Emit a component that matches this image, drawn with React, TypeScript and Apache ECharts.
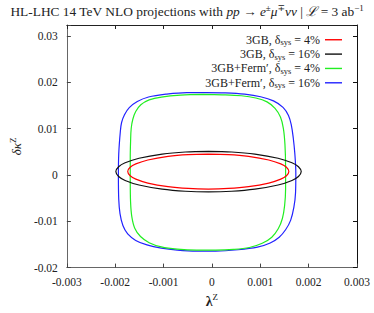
import React, { useEffect, useRef } from "react";
import * as echarts from "echarts";

const seriesNames = ["3GB, 4%", "3GB, 16%", "3GB+Ferm, 4%", "3GB+Ferm, 16%"];
const legendLabels = [
  "3GB, δ{sub|sys} = 4%",
  "3GB, δ{sub|sys} = 16%",
  "3GB+Ferm′, δ{sub|sys} = 4%",
  "3GB+Ferm′, δ{sub|sys} = 16%",
];
const seriesColors = ["#ff0000", "#111111", "#22ee22", "#2222ff"];

const xTicks = [-0.003, -0.002, -0.001, 0, 0.001, 0.002, 0.003];
const yTicks = [-0.02, -0.01, 0, 0.01, 0.02, 0.03];

// [lambda^Z, delta kappa^Z]
const red3GB4: number[][] = [
  [-0.000075, 0.00453], [0.000342, 0.004409], [0.000758, 0.004023], [0.001175, 0.003249],
  [0.001424, 0.002398], [0.001541, 0.001669], [0.001591, 0.00075], [0.001541, -0.000169],
  [0.001424, -0.000898], [0.001175, -0.001749], [0.000758, -0.002523], [0.000342, -0.002909],
  [-0.000075, -0.00303], [-0.000492, -0.002909], [-0.000908, -0.002523], [-0.001325, -0.001749],
  [-0.001574, -0.000898], [-0.001691, -0.000169], [-0.001741, 0.00075], [-0.001691, 0.001669],
  [-0.001574, 0.002398], [-0.001325, 0.003249], [-0.000908, 0.004023], [-0.000492, 0.004409],
  [-0.000075, 0.00453],
];

const black3GB16: number[][] = [
  [-0.00007, 0.00511], [0.000409, 0.00497], [0.000889, 0.004523], [0.001368, 0.003627],
  [0.001655, 0.00264], [0.001789, 0.001795], [0.001847, 0.00073], [0.001789, -0.000335],
  [0.001655, -0.00118], [0.001368, -0.002167], [0.000889, -0.003063], [0.000409, -0.00351],
  [-0.00007, -0.00365], [-0.000549, -0.00351], [-0.001029, -0.003063], [-0.001508, -0.002167],
  [-0.001795, -0.00118], [-0.001929, -0.000335], [-0.001987, 0.00073], [-0.001929, 0.001795],
  [-0.001795, 0.00264], [-0.001508, 0.003627], [-0.001029, 0.004523], [-0.000549, 0.00497],
  [-0.00007, 0.00511],
];

const greenFerm4: number[][] = [
  [-0.000185, 0.017397], [0.000212, 0.017328], [0.000609, 0.017119], [0.000907, 0.016633],
  [0.001139, 0.015797], [0.001305, 0.014405], [0.001417, 0.012526], [0.001477, 0.01009],
  [0.00151, 0.006611], [0.001523, 0.001739], [0.001523, -0.003132], [0.001503, -0.006611],
  [0.001457, -0.009395], [0.001371, -0.011622], [0.001238, -0.01343], [0.00104, -0.014753],
  [0.000775, -0.015658], [0.000444, -0.016075], [0.000079, -0.016215], [-0.000318, -0.016215],
  [-0.000715, -0.016006], [-0.001046, -0.015518], [-0.001298, -0.014614], [-0.001477, -0.013292],
  [-0.001596, -0.011482], [-0.001656, -0.009046], [-0.001682, -0.005914], [-0.001689, -0.001044],
  [-0.001689, 0.003827], [-0.001682, 0.007307], [-0.001669, 0.01009], [-0.001636, 0.012039],
  [-0.001576, 0.01371], [-0.00147, 0.015171], [-0.001298, 0.016215], [-0.001046, 0.016841],
  [-0.000649, 0.017259], [-0.000185, 0.017397],
];

const blueFerm16: number[][] = [
  [-0.000119, 0.01781], [0.000278, 0.017745], [0.000676, 0.017467], [0.001007, 0.01691],
  [0.001272, 0.016006], [0.00147, 0.014614], [0.001583, 0.012874], [0.001642, 0.010787],
  [0.001682, 0.008003], [0.001715, 0.004524], [0.001735, 0.000348], [0.001729, -0.003827],
  [0.001695, -0.006959], [0.001629, -0.009743], [0.001523, -0.011831], [0.001391, -0.01343],
  [0.001205, -0.014683], [0.00094, -0.015588], [0.000543, -0.016144], [0.000079, -0.016424],
  [-0.000318, -0.016424], [-0.000715, -0.016215], [-0.001046, -0.015797], [-0.001344, -0.0151],
  [-0.001576, -0.014127], [-0.001742, -0.012735], [-0.001841, -0.010925], [-0.001901, -0.008351],
  [-0.001927, -0.005219], [-0.001934, -0.000348], [-0.001927, 0.004524], [-0.001894, 0.009395],
  [-0.001868, 0.011343], [-0.001808, 0.013013], [-0.001709, 0.014545], [-0.001543, 0.015867],
  [-0.001311, 0.016841], [-0.000947, 0.017467], [-0.000517, 0.017815], [-0.000119, 0.01781],
];

const curves = [red3GB4, black3GB16, greenFerm4, blueFerm16];

const FONT = "'Liberation Serif', 'DejaVu Serif', serif";

export default function App() {
  const ref = useRef<HTMLDivElement>(null);
  useEffect(() => {
    if (!ref.current) return;
    const chart = echarts.init(ref.current, undefined, { renderer: "svg" });
    const isTick = (v: number, arr: number[]) => arr.some((t) => Math.abs(t - v) < 1e-9);
    const fmtX = (v: number) => (isTick(v, xTicks) ? (Math.abs(v) < 1e-12 ? "0" : v.toFixed(3)) : "");
    const fmtY = (v: number) => (isTick(v, yTicks) ? (Math.abs(v) < 1e-12 ? "0" : v.toFixed(2)) : "");
    const common = {
      type: "value" as const,
      splitLine: { show: false },
    };
    chart.setOption({
      animation: false,
      backgroundColor: "#ffffff",
      textStyle: { fontFamily: FONT },
      title: {
        left: "center",
        top: 3,
        padding: 0,
        text:
          "{n|HL-LHC 14 TeV NLO projections with }{i|pp}{n| → }{i|e}{sup|±}{i|μ}{sup|∓}{i|νν}{n| | }{i|ℒ}{n| = 3 ab}{sup|−1}",
        textStyle: {
          fontWeight: "normal",
          rich: {
            n: { fontFamily: FONT, fontSize: 13.4, color: "#222" },
            i: { fontFamily: FONT, fontSize: 13.4, color: "#222", fontStyle: "italic" },
            sup: { fontFamily: FONT, fontSize: 9, color: "#222", padding: [0, 0, 7, 0] },
          },
        },
      },
      legend: {
        orient: "vertical",
        right: 32,
        top: 33,
        padding: 0,
        align: "right",
        icon: "rect",
        itemWidth: 17,
        itemHeight: 1.4,
        itemGap: 0.6,
        data: seriesNames.map((n) => ({ name: n })),
        formatter: (name: string) => legendLabels[seriesNames.indexOf(name)],
        textStyle: {
          fontFamily: FONT,
          fontSize: 12,
          color: "#222",
          lineHeight: 13.5,
          rich: {
            sub: { fontFamily: FONT, fontSize: 8.5, color: "#222", padding: [5, 0, 0, 0] },
          },
        },
      },
      grid: { left: 55, right: 17, top: 25, bottom: 38 },
      xAxis: [
        {
          ...common,
          min: -0.003,
          max: 0.003,
          interval: 0.001,
          position: "bottom",
          name: "{b|λ}{sup|Z}",
          nameLocation: "middle",
          nameGap: 15,
          nameTextStyle: {
            rich: {
              b: { fontFamily: FONT, fontSize: 14, fontWeight: "bold", color: "#222" },
              sup: { fontFamily: FONT, fontSize: 9, color: "#222", padding: [0, 0, 8, 0] },
            },
          },
          axisLine: { show: true, onZero: false, lineStyle: { color: "#666", width: 1 } },
          axisTick: { show: true, inside: true, length: 4, lineStyle: { color: "#444" } },
          axisLabel: { formatter: fmtX, fontFamily: FONT, fontSize: 11.5, color: "#222", margin: 8 },
        },
        {
          ...common,
          min: -0.003,
          max: 0.003,
          interval: 0.001,
          position: "top",
          axisLine: { show: true, onZero: false, lineStyle: { color: "#222", width: 1 } },
          axisTick: { show: true, inside: true, length: 4, lineStyle: { color: "#222" } },
          axisLabel: { show: false },
        },
      ],
      yAxis: [
        {
          ...common,
          min: -0.02,
          max: 0.0324,
          interval: 0.01,
          position: "left",
          name: "{i|δκ}{sup|Z}",
          nameLocation: "middle",
          nameGap: 33,
          nameRotate: 90,
          nameTextStyle: {
            rich: {
              i: { fontFamily: FONT, fontSize: 13, fontStyle: "italic", color: "#222" },
              sup: { fontFamily: FONT, fontSize: 9, color: "#222", padding: [0, 0, 8, 0] },
            },
          },
          axisLine: { show: true, onZero: false, lineStyle: { color: "#666", width: 1 } },
          axisTick: { show: true, inside: true, length: 4, lineStyle: { color: "#444" } },
          axisLabel: { formatter: fmtY, fontFamily: FONT, fontSize: 11.5, color: "#222", margin: 9 },
        },
        {
          ...common,
          min: -0.02,
          max: 0.0324,
          interval: 0.01,
          position: "right",
          axisLine: { show: true, onZero: false, lineStyle: { color: "#111", width: 1 } },
          axisTick: { show: true, inside: true, length: 4, lineStyle: { color: "#111" } },
          axisLabel: { show: false },
        },
      ],
      series: curves.map((d, i) => ({
        type: "line",
        name: seriesNames[i],
        data: d,
        xAxisIndex: 0,
        yAxisIndex: 0,
        showSymbol: false,
        symbol: "none",
        smooth: 0.35,
        lineStyle: { color: seriesColors[i], width: 1.2 },
        itemStyle: { color: seriesColors[i] },
        z: 4 - i,
      })),
    });
    return () => chart.dispose();
  }, []);
  return (
    <div
      ref={ref}
      style={{ position: "absolute", left: 0, top: 0, width: 374, height: 313, background: "#fff" }}
    />
  );
}
